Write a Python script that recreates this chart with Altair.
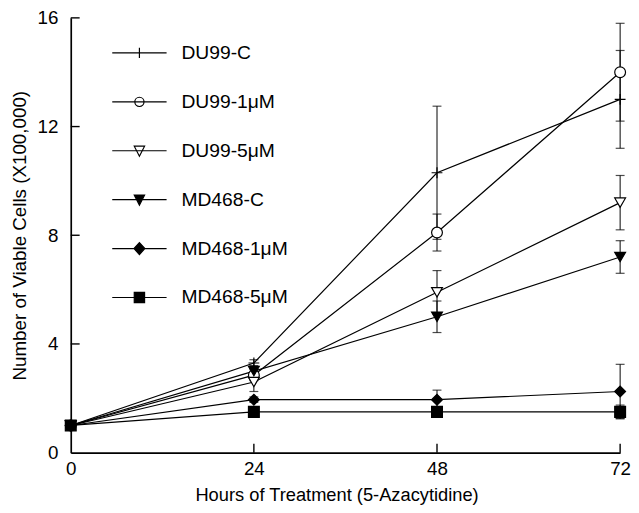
import altair as alt
import pandas as pd

series = ["DU99-C", "DU99-1μM", "DU99-5μM", "MD468-C", "MD468-1μM", "MD468-5μM"]
hours = [0, 24, 48, 72]
means = {
    "DU99-C": [1.0, 3.3, 10.3, 13.0],
    "DU99-1μM": [1.0, 2.85, 8.1, 14.0],
    "DU99-5μM": [1.0, 2.6, 5.9, 9.2],
    "MD468-C": [1.0, 3.0, 5.0, 7.2],
    "MD468-1μM": [1.0, 1.95, 1.95, 2.25],
    "MD468-5μM": [1.0, 1.5, 1.5, 1.5],
}
errors = {
    "DU99-C": [0, 0.12, 2.45, 1.8],
    "DU99-1μM": [0, 0.2, 0.68, 1.8],
    "DU99-5μM": [0, 0.35, 0.8, 1.0],
    "MD468-C": [0, 0.2, 0.58, 0.6],
    "MD468-1μM": [0, 0.1, 0.35, 1.0],
    "MD468-5μM": [0, 0.08, 0.1, 0.25],
}
x_ticks = [0, 24, 48, 72]
y_ticks = [0, 4, 8, 12, 16]

rows = []
for s in series:
    for h, m, e in zip(hours, means[s], errors[s]):
        rows.append({"series": s, "hour": h, "mean": m, "lo": m - e, "hi": m + e, "err": e})
df = pd.DataFrame(rows)
df_err = df[df["err"] > 0]

point_shapes = ["M-1,0H1M0,-1V1", "circle", "triangle-down", "triangle-down", "diamond", "square"]
point_fills = ["white", "white", "white", "black", "black", "black"]
legend_strokes = ["black"] * 6
legend_shapes = [
    "M-1,0H1M0,-0.19V0.19",
    "M-1,0H1M-0.17,0A0.17,0.17,0,1,1,0.17,0A0.17,0.17,0,1,1,-0.17,0Z",
    "M-1,0H1M-0.19,-0.17L0.19,-0.17L0,0.2Z",
    "M-1,0H1M-0.19,-0.17L0.19,-0.17L0,0.2Z",
    "M-1,0H1M0,-0.22L0.2,0L0,0.22L-0.2,0Z",
    "M-1,0H1M-0.19,-0.19H0.19V0.19H-0.19Z",
]

FONT = "Liberation Sans"
W, H = 556, 440
TICK = 9  # inward tick length in px

xs = alt.Scale(domain=[0, 72], nice=False)
ys = alt.Scale(domain=[0, 16], nice=False)

X = alt.X("hour:Q", scale=xs, axis=alt.Axis(
    values=x_ticks, title="Hours of Treatment (5-Azacytidine)", grid=False,
    ticks=False, tickSize=0, labelPadding=7, titlePadding=7,
    titleX=269, titleAnchor="start", titleAlign="center",
    labelFontSize=19, titleFontSize=18.5, labelFont=FONT, titleFont=FONT,
    labelColor="black", titleColor="black", titleFontWeight="normal",
    domainColor="black", domainWidth=1.7, labelFlush=False))
Y = alt.Y("mean:Q", scale=ys, axis=alt.Axis(
    values=y_ticks, title="Number of Viable Cells (X100,000)", grid=False,
    ticks=False, tickSize=0, labelPadding=13, titlePadding=8,
    labelFontSize=19, titleFontSize=19, labelFont=FONT, titleFont=FONT,
    labelColor="black", titleColor="black", titleFontWeight="normal",
    domainColor="black", domainWidth=1.7))

base = alt.Chart(df)

lines = base.mark_line(color="black", strokeWidth=1.2).encode(
    x=X, y=Y, detail="series:N")

err_rules = alt.Chart(df_err).mark_rule(color="black", strokeWidth=1).encode(
    x=alt.X("hour:Q", scale=xs), y=alt.Y("lo:Q", scale=ys), y2="hi:Q")
caps_lo = alt.Chart(df_err).mark_tick(color="black", orient="horizontal", size=9, thickness=1.2).encode(
    x=alt.X("hour:Q", scale=xs), y=alt.Y("lo:Q", scale=ys))
caps_hi = alt.Chart(df_err).mark_tick(color="black", orient="horizontal", size=9, thickness=1.2).encode(
    x=alt.X("hour:Q", scale=xs), y=alt.Y("hi:Q", scale=ys))

points = base.mark_point(stroke="black", strokeWidth=1.2, size=120, opacity=1).encode(
    x=alt.X("hour:Q", scale=xs),
    y=alt.Y("mean:Q", scale=ys),
    shape=alt.Shape("series:N", scale=alt.Scale(domain=series, range=point_shapes), legend=None),
    fill=alt.Fill("series:N", scale=alt.Scale(domain=series, range=point_fills), legend=None),
)

# inward axis ticks, positioned through the scales
xt = pd.DataFrame({"hour": x_ticks[1:]})
yt = pd.DataFrame({"mean": y_ticks[1:]})
xtick_marks = alt.Chart(xt).mark_rule(color="black", strokeWidth=1.4).encode(
    x=alt.X("hour:Q", scale=xs),
    y=alt.value(H),
    y2=alt.value(H - TICK),
)
ytick_marks = alt.Chart(yt).mark_rule(color="black", strokeWidth=1.4).encode(
    y=alt.Y("mean:Q", scale=ys),
    x=alt.datum(0, scale=xs),
    x2=alt.datum(72 * TICK / W),
)

legend_layer = base.transform_filter("false").mark_point(strokeWidth=1.2).encode(
    x=alt.X("hour:Q", scale=xs),
    y=alt.Y("mean:Q", scale=ys),
    shape=alt.Shape("series:N", scale=alt.Scale(domain=series, range=legend_shapes),
                    legend=alt.Legend(title=None, orient="none", legendX=41, legendY=7,
                                      symbolSize=3025, labelOffset=14, rowPadding=11.5,
                                      labelFontSize=19.5, labelFont=FONT, labelColor="black",
                                      symbolStrokeWidth=1.2, symbolOpacity=1, padding=0)),
    fill=alt.Fill("series:N", scale=alt.Scale(domain=series, range=point_fills)),
    stroke=alt.Stroke("series:N", scale=alt.Scale(domain=series, range=legend_strokes)),
)

chart = alt.layer(xtick_marks, ytick_marks, lines, err_rules, caps_lo, caps_hi, points, legend_layer).resolve_scale(
    shape="independent", fill="independent", stroke="independent"
).properties(
    width=W, height=H,
    autosize=alt.AutoSizeParams(type="none"),
    padding={"left": 63.5, "top": 7, "right": 11, "bottom": 50},
).configure_view(stroke=None)

chart.save("out.html", embed_options={"renderer": "svg", "actions": False})
